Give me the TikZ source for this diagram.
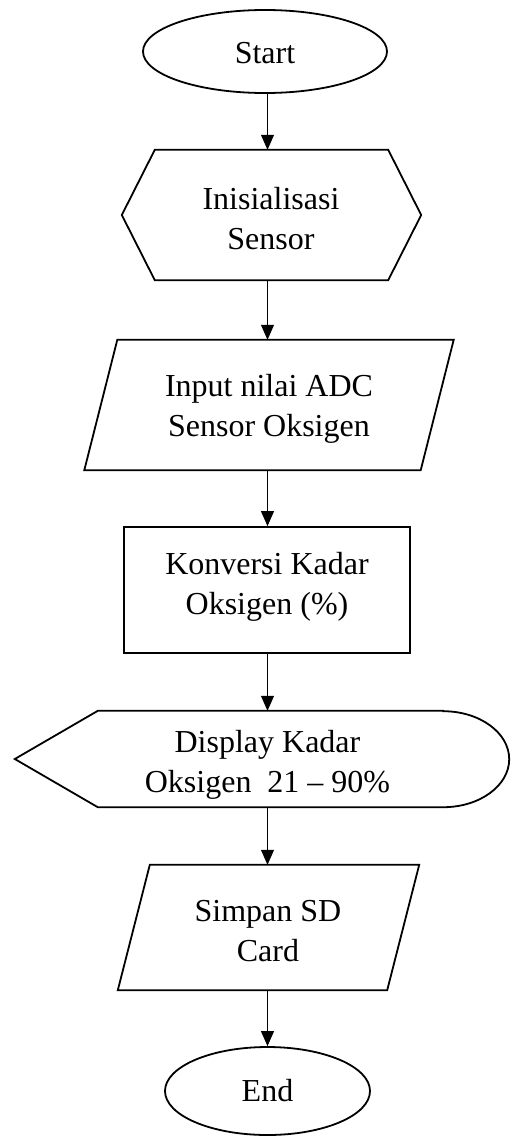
\documentclass[tikz,border=0pt]{standalone}
\usepackage{fontspec}
\setmainfont{Liberation Serif}
\usetikzlibrary{shapes.geometric,arrows.meta,calc}
\begin{document}
\begin{tikzpicture}[x=1pt,y=-1pt,
  txt/.style={font=\fontsize{32}{40}\selectfont, align=center, inner sep=0pt},
  outline/.style={draw=black, line width=1.8pt, line join=miter},
  term/.style={txt, ellipse, outline},
  frame/.style={txt, rectangle},
  conn/.style={line width=1pt, -{Triangle[length=15pt,width=13pt]}}]
\useasboundingbox (0,0) rectangle (511,1138);
\coordinate (ax) at (267.5,0);
% Start
\node[term, minimum width=244pt, minimum height=83pt] (start) at (265,51.5) {};
\node[txt] (starttext) at (265,53.5) {Start};
% Hexagon
\node[frame, minimum width=233pt, minimum height=130pt] (hex) at (271.5,215) {};
\node[txt] (hextext) at (271,219) {Inisialisasi\\Sensor};
\draw[outline] (hex.north west) -- (hex.north east) -- ([xshift=33pt]hex.east) -- (hex.south east) -- (hex.south west) -- ([xshift=-33pt]hex.west) -- cycle;
% Input parallelogram
\node[frame, minimum width=336pt, minimum height=130pt] (inp) at (269,405) {};
\node[txt] (inptext) at (269,409) {Input nilai ADC\\Sensor Oksigen};
\draw[outline] ([xshift=16.5pt]inp.north west) -- ([xshift=16.5pt]inp.north east) -- ([xshift=-16.5pt]inp.south east) -- ([xshift=-16.5pt]inp.south west) -- cycle;
% Process rectangle
\node[frame, outline, minimum width=286pt, minimum height=126pt] (konv) at (267,590) {};
\node[txt] (konvtext) at (267,587) {Konversi Kadar\\Oksigen (\%)};
% Display
\node[frame, minimum width=345pt, minimum height=96pt] (disp) at (270.5,759) {};
\node[txt] (disptext) at (267.5,765) {Display Kadar\\Oksigen\ \ 21 -- 90\%};
\draw[outline] (disp.north east) -- (disp.north west) -- ([xshift=-83pt]disp.west) -- (disp.south west) -- (disp.south east) arc[start angle=-90, end angle=90, x radius=66pt, y radius=48pt] -- cycle;
% Simpan parallelogram
\node[frame, minimum width=269pt, minimum height=125pt] (simp) at (268.5,927.5) {};
\node[txt] (simptext) at (268,931) {Simpan SD\\Card};
\draw[outline] ([xshift=16pt]simp.north west) -- ([xshift=16pt]simp.north east) -- ([xshift=-16pt]simp.south east) -- ([xshift=-16pt]simp.south west) -- cycle;
% End
\node[term, minimum width=205pt, minimum height=88pt] (end) at (267.5,1091) {};
\node[txt] (endtext) at (267.5,1091) {End};
% Connectors
\draw[conn] (ax |- start.south) -- (ax |- hex.north);
\draw[conn] (ax |- hex.south) -- (ax |- inp.north);
\draw[conn] (ax |- inp.south) -- (ax |- konv.north);
\draw[conn] (ax |- konv.south) -- (ax |- disp.north);
\draw[conn] (ax |- disp.south) -- (ax |- simp.north);
\draw[conn] (ax |- simp.south) -- (ax |- end.north);
\end{tikzpicture}
\end{document}
